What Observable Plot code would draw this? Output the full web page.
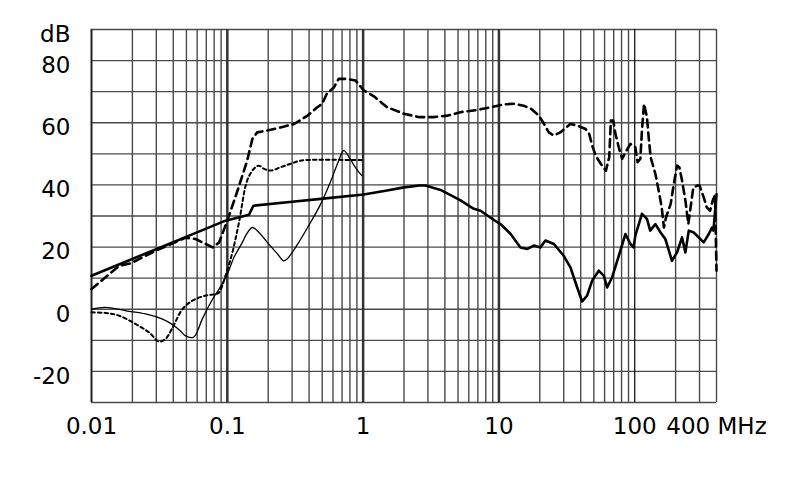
<!DOCTYPE html>
<html><head><meta charset="utf-8">
<script src="https://cdn.jsdelivr.net/npm/d3@7"></script>
<script src="https://cdn.jsdelivr.net/npm/@observablehq/plot@0.6"></script>
<style>body{margin:0;background:#fff}</style>
</head><body><div id="chart"></div>
<script>
// Tick values and labels
const xTicks = [0.01, 0.1, 1, 10, 100, 400];
const xTickLabels = ["0.01", "0.1", "1", "10", "100", "400 MHz"];
const yTicks = [-20, 0, 20, 40, 60, 80, 90];
const yTickLabels = ["-20", "0", "20", "40", "60", "80", "dB"];

// Series 1: thick solid
const solidFreq = [0.01, 0.0637, 0.097, 0.1445, 0.1556, 0.3, 0.487, 1.01, 1.5, 2.0, 2.6, 2.88, 3.72, 5.22, 6.53, 7.32, 9.72, 10.3, 12.2, 14.4, 16.2, 18.1, 20.2, 22.0, 25.4, 30.0, 33.6, 37.7, 41.0, 44.6, 48.6, 54.3, 59.2, 62.6, 68.2, 76.3, 85.4, 93, 98, 101, 113, 123, 130, 142, 155, 168, 188, 205, 223, 236, 250, 272, 322, 351, 371, 380, 400];
const solidDb   = [10.8, 25.2, 28.5, 30.4, 33.3, 34.6, 35.5, 36.9, 38.2, 39.2, 39.8, 39.8, 38.4, 35.0, 32.3, 31.7, 28.0, 27.4, 24.2, 19.9, 19.4, 20.5, 19.9, 22.1, 21.0, 17.2, 13.5, 7.0, 2.5, 4.4, 9.2, 12.4, 10.8, 7.0, 10.3, 17.2, 24.2, 21.0, 19.9, 23.7, 30.7, 29.1, 25.3, 27.4, 24.7, 22.6, 15.6, 18.3, 23.1, 18.3, 25.3, 24.7, 21.5, 24.2, 26.3, 25.3, 37.0];

// Series 2: thick dashed
const dashFreq = [0.01, 0.016, 0.0195, 0.03, 0.049, 0.0584, 0.078, 0.087, 0.1, 0.119, 0.14, 0.153, 0.166, 0.197, 0.247, 0.31, 0.39, 0.46, 0.5, 0.54, 0.61, 0.66, 0.76, 0.88, 1.01, 1.2, 1.5, 2.0, 2.6, 3.3, 4.2, 5.2, 6.9, 8.7, 10.9, 12.9, 15.2, 17.2, 19.7, 21.5, 23.3, 25.3, 28.3, 33.6, 37.7, 43.5, 46.2, 48.6, 51.6, 56.2, 61.3, 64.9, 66.7, 69.5, 72.1, 76.3, 80.7, 85.4, 93, 101, 105, 110, 113, 117, 123, 127, 131, 142, 150, 158, 164, 170, 184, 194, 205, 213, 223, 236, 248, 262, 270, 290, 300, 322, 339, 359, 375, 390, 400];
const dashDb   = [6.5, 14.0, 14.8, 18.9, 23.0, 22.6, 19.9, 21.5, 28.5, 38.2, 47.8, 54.8, 56.9, 57.5, 58.5, 59.6, 62.3, 65.0, 66.1, 69.3, 71.4, 74.1, 74.1, 73.6, 70.4, 68.5, 65.0, 62.9, 61.8, 61.8, 62.3, 63.4, 64.1, 65.0, 65.9, 66.1, 65.5, 64.5, 62.3, 59.6, 56.9, 55.9, 56.9, 59.6, 59.1, 58.0, 56.4, 52.7, 49.4, 46.8, 44.6, 48.9, 60.7, 60.7, 56.4, 52.1, 48.4, 50.5, 53.2, 52.1, 47.3, 48.4, 57.5, 66.1, 61.8, 54.8, 48.9, 43.5, 38.2, 32.8, 26.3, 29.6, 33.9, 40.3, 46.2, 45.7, 41.4, 35.0, 27.4, 35.0, 39.2, 39.8, 39.8, 36.0, 32.8, 31.7, 35.0, 36.6, 12.4];

// Series 3: dotted
const dotFreq = [0.01, 0.0127, 0.016, 0.0212, 0.0266, 0.0314, 0.035, 0.039, 0.0467, 0.0553, 0.0694, 0.0821, 0.087, 0.097, 0.109, 0.122, 0.14, 0.157, 0.171, 0.186, 0.208, 0.247, 0.293, 0.345, 0.46, 0.61, 0.81, 0.98];
const dotDb   = [-1.0, -1.2, -2.1, -4.8, -7.5, -10.4, -9.6, -6.4, 0.0, 2.75, 4.4, 4.9, 5.4, 10.8, 18.3, 28.0, 41.4, 45.2, 46.2, 45.2, 44.6, 45.7, 46.8, 47.8, 48.1, 48.1, 48.0, 48.0];

// Series 4: thin solid
const thinFreq = [0.01, 0.0127, 0.018, 0.025, 0.033, 0.039, 0.045, 0.049, 0.0553, 0.058, 0.0655, 0.078, 0.087, 0.1, 0.112, 0.129, 0.14, 0.153, 0.171, 0.197, 0.234, 0.26, 0.276, 0.33, 0.39, 0.488, 0.58, 0.65, 0.72, 0.79, 0.86, 0.93, 0.98];
const thinDb   = [0.0, 0.6, -0.5, -1.5, -3.1, -4.8, -6.9, -8.5, -9.1, -8.5, -3.1, 3.3, 6.5, 11.3, 16.7, 21.5, 24.5, 26.3, 24.7, 21.5, 17.8, 15.6, 16.2, 21.0, 26.3, 33.9, 41.4, 47.0, 51.0, 48.9, 46.2, 44.1, 43.0];

const toRows = (fs, ds) => fs.map((f, i) => ({f, db: ds[i]}));
const solid = toRows(solidFreq, solidDb);
const dashed = toRows(dashFreq, dashDb);
const dotted = toRows(dotFreq, dotDb);
const thin = toRows(thinFreq, thinDb);

// grid positions (2..9 per decade)
const decades = [0.01, 0.1, 1, 10, 100];
const minorGrid = [];
for (const d of decades) for (let k = 2; k <= 9; k++) { const v = +(k * d).toPrecision(3); if (v <= 400) minorGrid.push(v); }
const majorGrid = [0.1, 1, 10];
const yGrid = d3.range(-30, 91, 10);

const xLab = new Map(xTicks.map((t, i) => [t, xTickLabels[i]]));
const yLab = new Map(yTicks.map((t, i) => [t, yTickLabels[i]]));
const lastTick = xTicks.slice(-1);

const chart = Plot.plot({
  width: 790,
  height: 499,
  marginLeft: 91,
  marginTop: 29,
  marginRight: 74,
  marginBottom: 97,
  style: {fontFamily: "DejaVu Sans", background: "white", color: "black"},
  x: {type: "log", domain: [0.01, 400], label: null},
  y: {domain: [-30, 90], label: null},
  marks: [
    Plot.ruleY(yGrid, {stroke: "#4a4a4a", strokeWidth: 1.4}),
    Plot.ruleX(minorGrid, {stroke: "#4a4a4a", strokeWidth: 1.4}),
    Plot.ruleX(majorGrid, {stroke: "#333", strokeWidth: 2.5}),
    Plot.ruleX([100], {stroke: "#000", strokeWidth: 1.2}),
    Plot.ruleX([0.01], {stroke: "#222", strokeWidth: 2}),
    Plot.line(thin, {x: "f", y: "db", stroke: "black", strokeWidth: 1.3, curve: "catmull-rom"}),
    Plot.line(dotted, {x: "f", y: "db", stroke: "black", strokeWidth: 2, strokeDasharray: "3.5,3", curve: "catmull-rom"}),
    Plot.line(dashed, {x: "f", y: "db", stroke: "black", strokeWidth: 2.6, strokeDasharray: "8,5"}),
    Plot.line(solid, {x: "f", y: "db", stroke: "black", strokeWidth: 2.6}),
    Plot.axisX(xTicks.slice(0, -1), {tickSize: 0, tickPadding: 15, fontSize: 23, label: null, tickFormat: d => xLab.get(d)}),
    Plot.text(lastTick, {x: d => d, frameAnchor: "bottom", lineAnchor: "top", dy: 15, fontSize: 23, fill: "black", text: d => xLab.get(d)}),
    Plot.axisY(yTicks, {tickSize: 0, tickPadding: 21, dy: 5, fontSize: 23, label: null, tickFormat: d => yLab.get(d)})
  ]
});
document.getElementById("chart").appendChild(chart);
</script>
</body></html>
